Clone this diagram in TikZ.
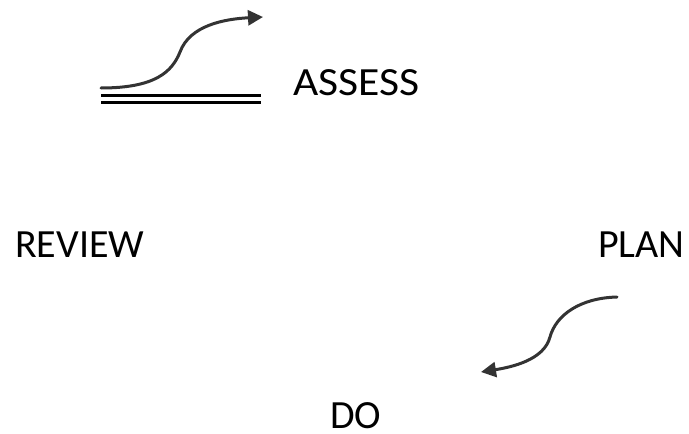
\documentclass[tikz,border=0pt]{standalone}
\usepackage{fontspec}
\setmainfont{Carlito}
\usetikzlibrary{arrows.meta}

\begin{document}
\begin{tikzpicture}[x=1pt, y=-1pt,
    every node/.style={inner sep=0pt, anchor=base west, font=\fontsize{40}{40}\selectfont},
    curvy/.style={line width=3pt, draw=black!80, line cap=round, -{Triangle[length=15pt, width=15pt]}}]

% --- Define variables with \def ---
\def\picW{689}
\def\picH{434}

\useasboundingbox (0,0) rectangle (\picW,\picH);

% --- The four stages ---
\node[xscale=1.09, transform shape] (assess) at (293,95) {ASSESS};
\node (review) at (15,257) {REVIEW};
\node (plan)   at (598,257) {PLAN};
\node (do)     at (330,428) {DO};

% --- Free ends of the curved arrows ---
\coordinate (aStart) at (101,88);
\coordinate (aMid)   at (180,52);
\coordinate (aEnd)   at (263,17);
\coordinate (pStart) at (617,297);
\coordinate (pMid)   at (550,337);
\coordinate (pEnd)   at (481,372);

% --- Arrow rising towards ASSESS ---
\draw[curvy] (aStart) .. controls (155,88) and (172,72) .. (aMid)
    .. controls (190,25) and (225,19) .. (aEnd);

% --- Double line under the arrow ---
\draw[line width=3pt] (101,95) -- (261,95);
\draw[line width=3pt] (101,102) -- (261,102);

% --- Arrow falling from PLAN towards DO ---
\draw[curvy] (pStart) .. controls (580,298) and (556,315) .. (pMid)
    .. controls (544,360) and (512,367) .. (pEnd);

\end{tikzpicture}
\end{document}
